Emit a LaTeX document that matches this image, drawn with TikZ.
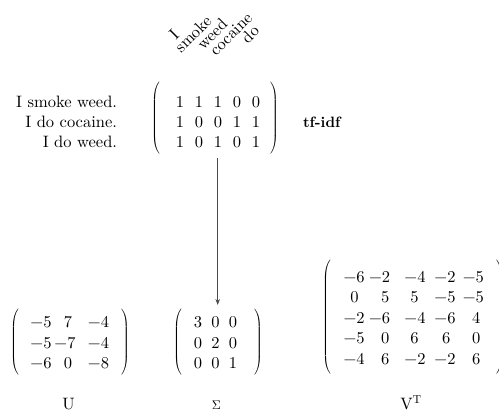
\documentclass[tikz,border=0pt]{standalone}
\usepackage{fontspec}
\setmainfont{lmroman10-regular}[Extension=.otf, BoldFont=lmroman10-bold]
\usetikzlibrary{arrows.meta}
\newcommand\myLP[1]{{\delimiterfactor=1000\delimitershortfall=0pt$\left(\vcenter{\hbox{\rule{0pt}{#1}}}\right.$}}
\newcommand\myRP[1]{{\delimiterfactor=1000\delimitershortfall=0pt$\left.\vcenter{\hbox{\rule{0pt}{#1}}}\right)$}}
\begin{document}
\begin{tikzpicture}[x=1pt,y=-1pt,
  txt/.style={font=\fontsize{16.5}{20}\selectfont, inner sep=0pt, outer sep=0pt},
  ent/.style={txt, anchor=base},
  parn/.style={txt},
  hdr/.style={txt, rotate=45, anchor=center},
  lbl/.style={txt, anchor=base},
  arr/.style={draw=black!70, line width=0.8pt, -{Stealth[length=6pt,width=4.5pt]}}]
\useasboundingbox (0,0) rectangle (499,419);

% column headers
\node[hdr] (h1) at (174,34) {I};
\node[hdr] (h2) at (193,34) {smoke};
\node[hdr] (h3) at (212,34) {weed};
\node[hdr] (h4) at (231,34) {cocaine};
\node[hdr] (h5) at (250,34) {do};

% sentences
\node[txt, anchor=base east] (s1) at (117,107.3) {I smoke weed.};
\node[txt, anchor=base east] (s2) at (117,127.5) {I do cocaine.};
\node[txt, anchor=base east] (s3) at (117,147.7) {I do weed.};

% tf-idf matrix
\foreach \row [count=\r] in {{1,1,1,0,0},{1,0,0,1,1},{1,0,1,0,1}} {
  \foreach \v [count=\c] in \row {
    \node[ent] (a-\r-\c) at ({161+19*\c},{87.1+20.2*\r}) {\v};
  }
}
\node[parn] (al) at (156,118.5) {\myLP{71pt}};
\node[parn] (ar) at (274,118.5) {\myRP{71pt}};
\node[txt, anchor=base west, font=\fontsize{15}{18}\selectfont\bfseries] (tfidf) at (303,127.5) {tf-idf};

% arrow
\coordinate (ar0) at (217.7,158);
\coordinate (ar1) at (217.7,305);
\draw[arr] (ar0) -- (ar1);

% U
\node[ent] (u-1-1) at (41,328) {−5};
\node[ent] (u-1-2) at (68,328) {7};
\node[ent] (u-1-3) at (98.5,328) {−4};
\node[ent] (u-2-1) at (41,348.5) {−5};
\node[ent] (u-2-2) at (65,348.5) {−7};
\node[ent] (u-2-3) at (98.5,348.5) {−4};
\node[ent] (u-3-1) at (41,369) {−6};
\node[ent] (u-3-2) at (68,369) {0};
\node[ent] (u-3-3) at (98.5,369) {−8};
\node[parn] (ul) at (15,342.5) {\myLP{65pt}};
\node[parn] (ur) at (125,342.5) {\myRP{65pt}};

% Sigma
\foreach \row [count=\r] in {{3,0,0},{0,2,0},{0,0,1}} {
  \foreach \v [count=\c] in \row {
    \node[ent] (s-\r-\c) at ({180.5+17.5*\c},{307.5+20.5*\r}) {\v};
  }
}
\node[parn] (sl) at (178,342.5) {\myLP{65pt}};
\node[parn] (sr) at (258,342.5) {\myRP{65pt}};

% V^T
\node[ent] (v-1-1) at (354.2,282.7) {−6};
\node[ent] (v-1-2) at (379.7,282.7) {−2};
\node[ent] (v-1-3) at (415,282.7) {−4};
\node[ent] (v-1-4) at (445,282.7) {−2};
\node[ent] (v-1-5) at (473.3,282.7) {−5};
\node[ent] (v-2-1) at (354.5,303) {0};
\node[ent] (v-2-2) at (385.3,303) {5};
\node[ent] (v-2-3) at (414.5,303) {5};
\node[ent] (v-2-4) at (445,303) {−5};
\node[ent] (v-2-5) at (473.3,303) {−5};
\node[ent] (v-3-1) at (354.2,323.5) {−2};
\node[ent] (v-3-2) at (379.7,323.5) {−6};
\node[ent] (v-3-3) at (415,323.5) {−4};
\node[ent] (v-3-4) at (445,323.5) {−6};
\node[ent] (v-3-5) at (476.3,323.5) {4};
\node[ent] (v-4-1) at (354.2,344) {−5};
\node[ent] (v-4-2) at (385.3,344) {0};
\node[ent] (v-4-3) at (414.5,344) {6};
\node[ent] (v-4-4) at (446.3,344) {6};
\node[ent] (v-4-5) at (476.3,344) {0};
\node[ent] (v-5-1) at (354.2,364.5) {−4};
\node[ent] (v-5-2) at (385.3,364.5) {6};
\node[ent] (v-5-3) at (415,364.5) {−2};
\node[ent] (v-5-4) at (445,364.5) {−2};
\node[ent] (v-5-5) at (476.3,364.5) {6};
\node[parn] (vl) at (327,317) {\myLP{114pt}};
\node[parn] (vr) at (500,317) {\myRP{114pt}};

% labels
\node[lbl] (lu) at (68.5,410) {U};
\node[lbl] (ls) at (216.5,410) {\scalebox{1.25}{\fontsize{10}{12}\selectfont$\Sigma$}};
\node[lbl] (lv) at (411,410) {$\mathrm{V}^{\mathrm{T}}$};
\end{tikzpicture}
\end{document}
